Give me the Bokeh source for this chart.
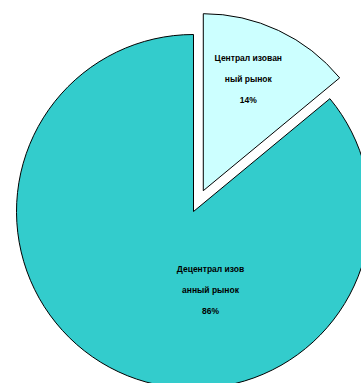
import math
from bokeh.plotting import figure
from bokeh.models import ColumnDataSource, Range1d
from bokeh.core.properties import value
from bokeh.embed import file_html
from bokeh.resources import INLINE

# data
categories = ["Децентрализованный рынок", "Централизованный рынок"]
shares = [86, 14]
label_lines = [["Децентрал изов", "анный рынок", "86%"],
               ["Централ изован", "ный рынок", "14%"]]
colors = ["#33CCCC", "#CCFFFF"]
explode = [0, 23]

W, H = 361, 383
cx, cy = 193, H - 211
R = 177

p = figure(width=W, height=H, output_backend="svg", toolbar_location=None,
           x_range=Range1d(0, W), y_range=Range1d(0, H), min_border=0)
p.axis.visible = False
p.grid.visible = False
p.outline_line_color = None
p.background_fill_color = "white"

total = sum(shares)
small_end = math.pi / 2
small_start = small_end - 2 * math.pi * shares[1] / total
spans = [(small_end, small_start + 2 * math.pi), (small_start, small_end)]
xs, ys, sa, ea = [], [], [], []
for i, (a0, a1) in enumerate(spans):
    mid = (a0 + a1) / 2
    xs.append(cx + explode[i] * math.cos(mid))
    ys.append(cy + explode[i] * math.sin(mid))
    sa.append(a0)
    ea.append(a1)

src = ColumnDataSource(dict(x=xs, y=ys, start=sa, end=ea, color=colors, cat=categories))
p.wedge(x="x", y="y", radius=R, start_angle="start", end_angle="end",
        fill_color="color", line_color="black", line_width=1, source=src)

# label placement (style offsets of first line from each slice centre)
label_offsets = [(17, -57), (45, 133)]
line_gap = 21
lx, ly, lt = [], [], []
for i in range(2):
    for j, t in enumerate(label_lines[i]):
        lx.append(xs[i] + label_offsets[i][0])
        ly.append(ys[i] + label_offsets[i][1] - j * line_gap)
        lt.append(t)

lsrc = ColumnDataSource(dict(x=lx, y=ly, t=lt))
p.text(x="x", y="y", text="t", source=lsrc, text_align="center", text_baseline="middle",
       text_font=value("Liberation Sans"), text_font_size="8.5px", text_font_style="bold",
       text_color="black")

open("out.html", "w").write(file_html(p, INLINE))
